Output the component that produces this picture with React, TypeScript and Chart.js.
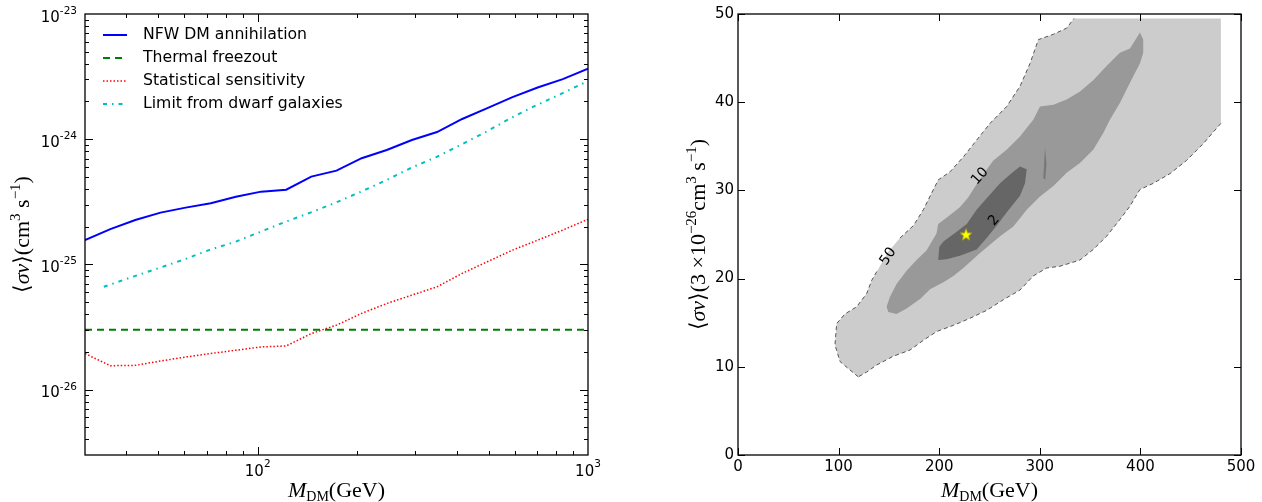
import React, { useEffect, useRef } from 'react';
import { Chart, registerables } from 'chart.js';
Chart.register(...registerables);

// ---------------- Left panel data ----------------
const massNFW = [30, 35.8, 42.6, 50.8, 60.5, 72.1, 85.9, 102.4, 122, 145.3, 173.2, 206.4, 245.9, 293, 349.1, 416, 495.8, 590.8, 704, 838.9, 1000];
const sigmaNFW = [1.56e-25, 1.91e-25, 2.26e-25, 2.59e-25, 2.84e-25, 3.08e-25, 3.47e-25, 3.81e-25, 3.95e-25, 5.02e-25, 5.61e-25, 7.05e-25, 8.2e-25, 9.86e-25, 1.14e-24, 1.45e-24, 1.77e-24, 2.17e-24, 2.59e-24, 3.02e-24, 3.65e-24];
const massThermal = [30, 1000];
const sigmaThermal = [3e-26, 3e-26];
const massStat = [30, 35.8, 42.6, 50.8, 60.5, 72.1, 85.9, 102.4, 122, 145.3, 173.2, 206.4, 245.9, 293, 349.1, 416, 495.8, 590.8, 704, 838.9, 1000];
const sigmaStat = [1.94e-26, 1.55e-26, 1.56e-26, 1.69e-26, 1.82e-26, 1.94e-26, 2.06e-26, 2.19e-26, 2.23e-26, 2.8e-26, 3.27e-26, 4.06e-26, 4.87e-26, 5.68e-26, 6.62e-26, 8.47e-26, 1.05e-25, 1.3e-25, 1.56e-25, 1.88e-25, 2.29e-25];
const massDwarf = [34.2, 41.3, 49.9, 60.2, 71.1, 85.9, 101.4, 120.9, 144.3, 172.2, 205.5, 245.9, 289.7, 349.8, 417.5, 492.6, 587.8, 701.7, 837.8, 1000];
const sigmaDwarf = [6.62e-26, 7.87e-26, 9.29e-26, 1.1e-25, 1.3e-25, 1.52e-25, 1.81e-25, 2.18e-25, 2.59e-25, 3.11e-25, 3.81e-25, 4.72e-25, 5.86e-25, 7.26e-25, 9.17e-25, 1.15e-24, 1.49e-24, 1.88e-24, 2.33e-24, 2.92e-24];
const seriesLabels = ['NFW DM annihilation', 'Thermal freezout', 'Statistical sensitivity', 'Limit from dwarf galaxies'];
const leftXMajorExp = [2, 3];
const leftYMajorExp = [-26, -25, -24, -23];

// ---------------- Right panel data ----------------
const outerUpperX = [119.6, 109.6, 101.4, 96.4, 98.1, 106.4, 117.9, 127.9, 132.9, 139.5, 149, 161, 174.3, 184.2, 192.5, 199.1, 210.7, 224, 237.2, 250.5, 267, 280.3, 290.3, 298.6, 313.5, 326.7, 334];
const outerUpperY = [8.86, 9.8, 10.6, 12.5, 14.9, 16.0, 16.8, 18.3, 19.8, 21.1, 23.0, 24.6, 26.0, 27.8, 29.7, 31.2, 32.1, 33.8, 35.7, 37.6, 39.5, 41.8, 44.4, 47.1, 47.7, 48.4, 49.5];
const outerCornerX = [480];
const outerCornerY = [49.5];
const outerLowerX = [480, 462.5, 445.9, 429.4, 412.8, 399.5, 389.6, 379.6, 366.4, 353.1, 339.9, 320, 306.8, 293.5, 280.3, 263.7, 247.2, 230.6, 214.1, 197.5, 184.2, 171, 154.4, 137.8, 127.9, 119.6];
const outerLowerY = [37.6, 35.3, 33.4, 31.9, 30.8, 30.1, 28.2, 26.7, 24.8, 23.3, 22.1, 21.4, 21.2, 20.3, 18.7, 17.6, 16.4, 15.5, 14.7, 14.0, 13.0, 11.9, 11.2, 10.2, 9.4, 8.86];
const labelGapIndex = 10; // index in outerUpper where the "50" label interrupts the line

const midX = [147.7, 151, 157.6, 167.6, 177.5, 187.4, 197.3, 199, 207.3, 220.5, 228.8, 237.2, 245, 253.8, 267, 280.3, 293.5, 300.2, 313.5, 326.7, 340, 353.1, 366.4, 379.6, 389.6, 397.9, 399.5, 402.8, 402.8, 399.5, 389.6, 379.6, 369.7, 363.1, 353.1, 339.9, 326.7, 313.5, 300.2, 287, 273.7, 260.5, 240.6, 224, 214.1, 204.2, 190.9, 181, 167.6, 157.6, 149.4];
const midY = [16.8, 17.9, 19.4, 20.9, 22.1, 23.2, 25.1, 26.2, 26.9, 28.1, 29.2, 30.7, 32.0, 33.4, 34.6, 36.1, 38.0, 39.5, 39.7, 40.3, 41.2, 42.5, 44.1, 45.6, 46.1, 47.6, 47.9, 47.1, 45.6, 44.4, 42.2, 39.9, 38.0, 36.5, 34.6, 33.1, 32.0, 30.5, 29.3, 27.8, 25.9, 24.8, 22.9, 21.2, 20.3, 19.6, 18.8, 17.7, 16.6, 16.0, 16.2];

const innerX = [199.1, 200.1, 204.2, 217.4, 227.4, 237.2, 247.2, 260.5, 270.4, 280.3, 287, 285.3, 280.3, 267, 257.1, 247.2, 237.2, 220.5, 207.3];
const innerY = [22.1, 23.6, 24.2, 25.3, 26.2, 27.8, 29.1, 30.8, 31.8, 32.7, 32.4, 30.8, 29.4, 27.5, 26.0, 24.6, 23.3, 22.6, 22.2];

const sliverX = [303.5, 305.2, 306.6, 305.4];
const sliverY = [31.4, 34.9, 33.0, 31.2];

const bestFitX = [226.7];
const bestFitY = [25.0];

const contourLabelText = ['50', '10', '2'];
const contourLabelX = [149.4, 240.5, 254.5];
const contourLabelY = [22.5, 31.6, 26.6];
const contourLabelRot = [-56, -48, -50];

const rightXTicks = [0, 100, 200, 300, 400, 500];
const rightYTicks = [0, 10, 20, 30, 40, 50];

// ---------------- helpers ----------------
const SANS = '"DejaVu Sans", sans-serif';
const SERIF = '"Liberation Serif", "DejaVu Serif", serif';
const TICK_SIZE = 15;
const SUP_SIZE = 10.5;
const TITLE_SIZE = 22;
const TITLE_SUP = 15;

type Seg = { t: string; size: number; style?: string; dy?: number; family?: string };
function segFont(s: Seg) {
  return `${s.style || 'normal'} ${s.size}px ${s.family || SERIF}`;
}
function drawRich(ctx: CanvasRenderingContext2D, segs: Seg[], x: number, y: number, align: 'left' | 'center' | 'right') {
  ctx.textAlign = 'left';
  ctx.textBaseline = 'alphabetic';
  const widths = segs.map((s) => {
    ctx.font = segFont(s);
    return ctx.measureText(s.t).width;
  });
  const total = widths.reduce((a, b) => a + b, 0);
  let cx = align === 'center' ? x - total / 2 : align === 'right' ? x - total : x;
  segs.forEach((s, i) => {
    ctx.font = segFont(s);
    ctx.fillText(s.t, cx, y + (s.dy || 0));
    cx += widths[i];
  });
}
const pts = (xs: number[], ys: number[]) => xs.map((x, i) => ({ x, y: ys[i] }));

const xTitleSegs: Seg[] = [
  { t: 'M', size: TITLE_SIZE, style: 'italic' },
  { t: 'DM', size: 14, dy: 4 },
  { t: '(GeV)', size: TITLE_SIZE },
];
const leftYTitleSegs: Seg[] = [
  { t: '⟨', size: TITLE_SIZE },
  { t: 'σv', size: TITLE_SIZE, style: 'italic' },
  { t: '⟩', size: TITLE_SIZE },
  { t: '(cm', size: TITLE_SIZE },
  { t: '3', size: TITLE_SUP, dy: -9 },
  { t: ' s', size: TITLE_SIZE },
  { t: '−1', size: TITLE_SUP, dy: -9 },
  { t: ')', size: TITLE_SIZE },
];
const rightYTitleSegs: Seg[] = [
  { t: '⟨', size: TITLE_SIZE },
  { t: 'σv', size: TITLE_SIZE, style: 'italic' },
  { t: '⟩', size: TITLE_SIZE },
  { t: '(3 ×10', size: TITLE_SIZE },
  { t: '−26', size: TITLE_SUP, dy: -9 },
  { t: 'cm', size: TITLE_SIZE },
  { t: '3', size: TITLE_SUP, dy: -9 },
  { t: ' s', size: TITLE_SIZE },
  { t: '−1', size: TITLE_SUP, dy: -9 },
  { t: ')', size: TITLE_SIZE },
];

function drawBorder(ctx: CanvasRenderingContext2D, a: any) {
  ctx.save();
  ctx.strokeStyle = '#000';
  ctx.lineWidth = 1.3;
  ctx.strokeRect(a.left, a.top, a.right - a.left, a.bottom - a.top);
  ctx.restore();
}

const leftDecor = {
  id: 'leftDecor',
  afterDraw(chart: any) {
    const { ctx, chartArea: a, scales } = chart;
    const sx = scales.x;
    const sy = scales.y;
    ctx.save();
    // legend
    chart.data.datasets.forEach((ds: any, i: number) => {
      const yy = 35 + i * 23;
      ctx.save();
      ctx.strokeStyle = ds.borderColor;
      ctx.lineWidth = ds.borderWidth;
      ctx.setLineDash(ds.borderDash || []);
      ctx.beginPath();
      ctx.moveTo(103, yy);
      ctx.lineTo(127, yy);
      ctx.stroke();
      ctx.restore();
      ctx.fillStyle = '#000';
      ctx.font = `15.7px ${SANS}`;
      ctx.textAlign = 'left';
      ctx.textBaseline = 'middle';
      ctx.fillText(ds.label, 143, yy);
    });
    drawBorder(ctx, a);
    ctx.strokeStyle = '#000';
    ctx.lineWidth = 1;
    // x ticks
    const xmin = sx.min, xmax = sx.max;
    for (let e = 1; e <= 3; e++) {
      for (let k = 1; k <= 9; k++) {
        const v = k * Math.pow(10, e);
        if (v <= xmin * 1.0001 || v >= xmax * 0.9999) continue;
        const px = Math.round(sx.getPixelForValue(v)) + 0.5;
        const len = k === 1 ? 8 : 4;
        ctx.beginPath();
        ctx.moveTo(px, a.bottom);
        ctx.lineTo(px, a.bottom - len);
        ctx.moveTo(px, a.top);
        ctx.lineTo(px, a.top + len);
        ctx.stroke();
      }
    }
    // y ticks
    for (let e = -27; e <= -24; e++) {
      for (let k = 1; k <= 9; k++) {
        const v = k * Math.pow(10, e);
        if (v <= sy.min * 1.0001 || v >= sy.max * 0.9999) continue;
        const py = Math.round(sy.getPixelForValue(v)) + 0.5;
        const len = k === 1 ? 8 : 4;
        ctx.beginPath();
        ctx.moveTo(a.left, py);
        ctx.lineTo(a.left + len, py);
        ctx.moveTo(a.right, py);
        ctx.lineTo(a.right - len, py);
        ctx.stroke();
      }
    }
    // tick labels
    ctx.fillStyle = '#000';
    leftYMajorExp.forEach((e) => {
      const py = sy.getPixelForValue(Math.pow(10, e));
      drawRich(ctx, [
        { t: '10', size: TICK_SIZE, family: SANS },
        { t: String(e), size: SUP_SIZE, family: SANS, dy: -7.5 },
      ], 77, py + 7.6, 'right');
    });
    leftXMajorExp.forEach((e) => {
      const px = sx.getPixelForValue(Math.pow(10, e));
      drawRich(ctx, [
        { t: '10', size: TICK_SIZE, family: SANS },
        { t: String(e), size: SUP_SIZE, family: SANS, dy: -9 },
      ], px, 475.5, 'center');
    });
    // titles
    drawRich(ctx, xTitleSegs, (a.left + a.right) / 2, 497, 'center');
    ctx.save();
    ctx.translate(29, (a.top + a.bottom) / 2);
    ctx.rotate(-Math.PI / 2);
    drawRich(ctx, leftYTitleSegs, 0, 0, 'center');
    ctx.restore();
    ctx.restore();
  },
};

const rightDecor = {
  id: 'rightDecor',
  afterDatasetsDraw(chart: any) {
    const { ctx, scales } = chart;
    ctx.save();
    ctx.fillStyle = '#000';
    ctx.font = `14px ${SANS}`;
    ctx.textAlign = 'center';
    ctx.textBaseline = 'middle';
    contourLabelText.forEach((t, i) => {
      const px = scales.x.getPixelForValue(contourLabelX[i]);
      const py = scales.y.getPixelForValue(contourLabelY[i]);
      ctx.save();
      ctx.translate(px, py);
      ctx.rotate((contourLabelRot[i] * Math.PI) / 180);
      ctx.fillText(t, 0, 0);
      ctx.restore();
    });
    ctx.restore();
  },
  afterDraw(chart: any) {
    const { ctx, chartArea: a, scales } = chart;
    const sx = scales.x;
    const sy = scales.y;
    ctx.save();
    drawBorder(ctx, a);
    ctx.strokeStyle = '#000';
    ctx.lineWidth = 1;
    rightXTicks.forEach((v) => {
      const px = Math.round(sx.getPixelForValue(v)) + 0.5;
      ctx.beginPath();
      ctx.moveTo(px, a.bottom);
      ctx.lineTo(px, a.bottom - 7);
      ctx.moveTo(px, a.top);
      ctx.lineTo(px, a.top + 7);
      ctx.stroke();
    });
    rightYTicks.forEach((v) => {
      const py = Math.round(sy.getPixelForValue(v)) + 0.5;
      ctx.beginPath();
      ctx.moveTo(a.left, py);
      ctx.lineTo(a.left + 7, py);
      ctx.moveTo(a.right, py);
      ctx.lineTo(a.right - 7, py);
      ctx.stroke();
    });
    ctx.fillStyle = '#000';
    ctx.font = `${TICK_SIZE}px ${SANS}`;
    ctx.textAlign = 'right';
    ctx.textBaseline = 'middle';
    rightYTicks.forEach((v) => {
      ctx.fillText(String(v), a.left - 4, sy.getPixelForValue(v));
    });
    ctx.textAlign = 'center';
    ctx.textBaseline = 'alphabetic';
    rightXTicks.forEach((v) => {
      ctx.fillText(String(v), sx.getPixelForValue(v), 470.5);
    });
    drawRich(ctx, xTitleSegs, (a.left + a.right) / 2, 497, 'center');
    ctx.save();
    ctx.translate(a.left - 33, (a.top + a.bottom) / 2);
    ctx.rotate(-Math.PI / 2);
    drawRich(ctx, rightYTitleSegs, 0, 0, 'center');
    ctx.restore();
    ctx.restore();
  },
};

function makeStar(): HTMLCanvasElement {
  const c = document.createElement('canvas');
  c.width = 14;
  c.height = 14;
  const g = c.getContext('2d')!;
  g.beginPath();
  for (let i = 0; i < 10; i++) {
    const r = i % 2 === 0 ? 6.2 : 2.6;
    const ang = -Math.PI / 2 + (i * Math.PI) / 5;
    const px = 7 + r * Math.cos(ang);
    const py = 7.5 + r * Math.sin(ang);
    if (i === 0) g.moveTo(px, py);
    else g.lineTo(px, py);
  }
  g.closePath();
  g.fillStyle = '#ffff00';
  g.fill();
  g.strokeStyle = '#b0b000';
  g.lineWidth = 0.6;
  g.stroke();
  return c;
}

export default function App() {
  const leftRef = useRef<HTMLCanvasElement>(null);
  const rightRef = useRef<HTMLCanvasElement>(null);

  useEffect(() => {
    const left = new Chart(leftRef.current!, {
      type: 'line',
      data: {
        datasets: [
          { label: seriesLabels[0], data: pts(massNFW, sigmaNFW), borderColor: '#0000ff', borderWidth: 2, pointRadius: 0, tension: 0, fill: false },
          { label: seriesLabels[1], data: pts(massThermal, sigmaThermal), borderColor: '#008000', borderWidth: 2, borderDash: [7, 5], pointRadius: 0, tension: 0, fill: false },
          { label: seriesLabels[2], data: pts(massStat, sigmaStat), borderColor: '#ff0000', borderWidth: 1.5, borderDash: [1.5, 2], pointRadius: 0, tension: 0, fill: false },
          { label: seriesLabels[3], data: pts(massDwarf, sigmaDwarf), borderColor: '#00bfbf', borderWidth: 2, borderDash: [4, 5, 1.5, 5], pointRadius: 0, tension: 0, fill: false },
        ] as any,
      },
      options: {
        responsive: false,
        animation: false,
        devicePixelRatio: 1,
        events: [],
        layout: { padding: { left: 85, right: 43, top: 14, bottom: 47 } },
        plugins: { legend: { display: false }, tooltip: { enabled: false } },
        scales: {
          x: { type: 'logarithmic', min: 30, max: 1000, display: false },
          y: { type: 'logarithmic', min: 3e-27, max: 1e-23, display: false },
        },
      } as any,
      plugins: [leftDecor],
    });

    const star = makeStar();
    const outerPoly = pts(
      [...outerUpperX, ...outerCornerX, ...outerLowerX],
      [...outerUpperY, ...outerCornerY, ...outerLowerY]
    );
    const dashed = { borderColor: '#555555', borderWidth: 1, borderDash: [4, 3], pointRadius: 0, tension: 0, fill: false };
    const right = new Chart(rightRef.current!, {
      type: 'line',
      data: {
        datasets: [
          { data: pts(bestFitX, bestFitY), showLine: false, pointStyle: star, pointRadius: 7, order: 1 },
          { data: pts(outerUpperX.slice(0, labelGapIndex), outerUpperY.slice(0, labelGapIndex)), ...dashed, order: 2 },
          { data: pts(outerUpperX.slice(labelGapIndex + 1), outerUpperY.slice(labelGapIndex + 1)), ...dashed, order: 2 },
          { data: pts(outerLowerX, outerLowerY), ...dashed, order: 2 },
          { data: pts(sliverX, sliverY), backgroundColor: '#777777', borderColor: 'rgba(0,0,0,0)', borderWidth: 0, pointRadius: 0, tension: 0, fill: 'shape', order: 3 },
          { data: pts(innerX, innerY), backgroundColor: '#666666', borderColor: 'rgba(0,0,0,0)', borderWidth: 0, pointRadius: 0, tension: 0, fill: 'shape', order: 4 },
          { data: pts(midX, midY), backgroundColor: '#999999', borderColor: 'rgba(0,0,0,0)', borderWidth: 0, pointRadius: 0, tension: 0, fill: 'shape', order: 5 },
          { data: outerPoly, backgroundColor: '#cccccc', borderColor: 'rgba(0,0,0,0)', borderWidth: 0, pointRadius: 0, tension: 0, fill: 'shape', order: 6 },
        ] as any,
      },
      options: {
        responsive: false,
        animation: false,
        devicePixelRatio: 1,
        events: [],
        layout: { padding: { left: 107, right: 21, top: 14, bottom: 47 } },
        plugins: { legend: { display: false }, tooltip: { enabled: false } },
        scales: {
          x: { type: 'linear', min: 0, max: 500, display: false },
          y: { type: 'linear', min: 0, max: 50, display: false },
        },
      } as any,
      plugins: [rightDecor],
    });

    return () => {
      left.destroy();
      right.destroy();
    };
  }, []);

  return (
    <div style={{ position: 'absolute', left: 0, top: 0, width: 1262, height: 502, background: '#fff' }}>
      <canvas ref={leftRef} width={631} height={502} style={{ position: 'absolute', left: 0, top: 0, width: 631, height: 502 }} />
      <canvas ref={rightRef} width={631} height={502} style={{ position: 'absolute', left: 631, top: 0, width: 631, height: 502 }} />
    </div>
  );
}
